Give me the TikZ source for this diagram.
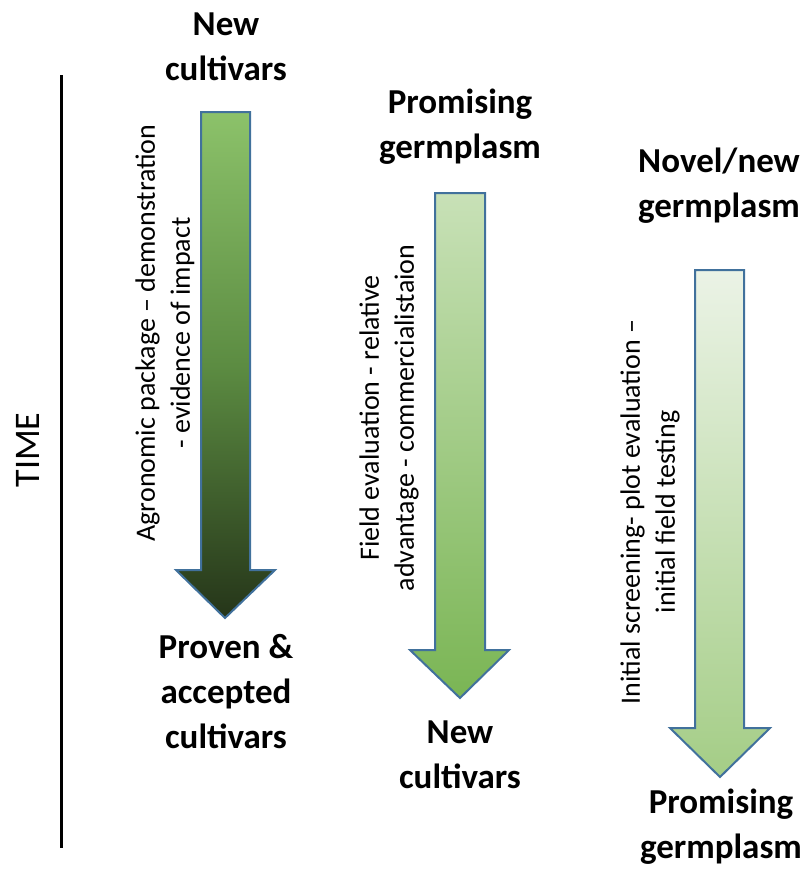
\documentclass[tikz,border=0pt]{standalone}
\usepackage{fontspec}
\setmainfont{Carlito}
\definecolor{outlineblue}{HTML}{41719C}
\definecolor{aTop}{HTML}{8CC26A}
\definecolor{aMid}{HTML}{5C8C42}
\definecolor{aBot}{HTML}{253519}
\definecolor{bTop}{HTML}{C8E1B7}
\definecolor{bBot}{HTML}{7AB554}
\definecolor{cTop}{HTML}{EBF3E6}
\definecolor{cBot}{HTML}{A4CD86}
\begin{document}
\begin{tikzpicture}[x=0.75pt,y=-0.75pt,
  headtext/.style={font=\fontsize{26.25pt}{33.75pt}\selectfont\bfseries, align=center, inner sep=0pt, anchor=base},
  sidetext/.style={font=\fontsize{21pt}{26.25pt}\selectfont, align=center, inner sep=0pt, rotate=90},
  outline/.style={draw=outlineblue, line width=1.5pt, line join=miter}]
\useasboundingbox (0,0) rectangle (809,871);

% time axis
\draw[line width=2.25pt] (61,75) coordinate (axtop) -- (61,848) coordinate (axbot);
\node[font=\fontsize{27pt}{32pt}\selectfont, rotate=90, inner sep=0pt] (time) at (28,450) {TIME};

% stage 1: new cultivars -> proven & accepted cultivars
\path[outline, top color=aTop, bottom color=aBot, middle color=aMid]
  (201,112) -- (250,112) -- (250,570) -- (275,570) -- (225,618) -- (176,570) -- (201,570) -- cycle;
\node[headtext] (s1top) at (226,80) {New\\cultivars};
\node[headtext] (s1bot) at (226,748) {Proven \&\\accepted\\cultivars};
\node[sidetext] (s1txt) at (165,333) {Agronomic package – demonstration\\- evidence of impact};

% stage 2: promising germplasm -> new cultivars
\path[outline, top color=bTop, bottom color=bBot]
  (435,193) -- (485,193) -- (485,650) -- (509,650) -- (460,698) -- (410,650) -- (435,650) -- cycle;
\node[headtext] (s2top) at (460,158) {Promising\\germplasm};
\node[headtext] (s2bot) at (460,788) {New\\cultivars};
\node[sidetext] (s2txt) at (389,418) {Field evaluation - relative\\advantage - commercialistaion};

% stage 3: novel/new germplasm -> promising germplasm
\path[outline, top color=cTop, bottom color=cBot]
  (695,270) -- (744,270) -- (744,728) -- (770,728) -- (720,777) -- (670,728) -- (695,728) -- cycle;
\node[headtext] (s3top) at (719,217) {Novel/new\\germplasm};
\node[headtext] (s3bot) at (721,858) {Promising\\germplasm};
\node[sidetext] (s3txt) at (650,512) {Initial screening- plot evaluation –\\initial field testing};
\end{tikzpicture}
\end{document}
